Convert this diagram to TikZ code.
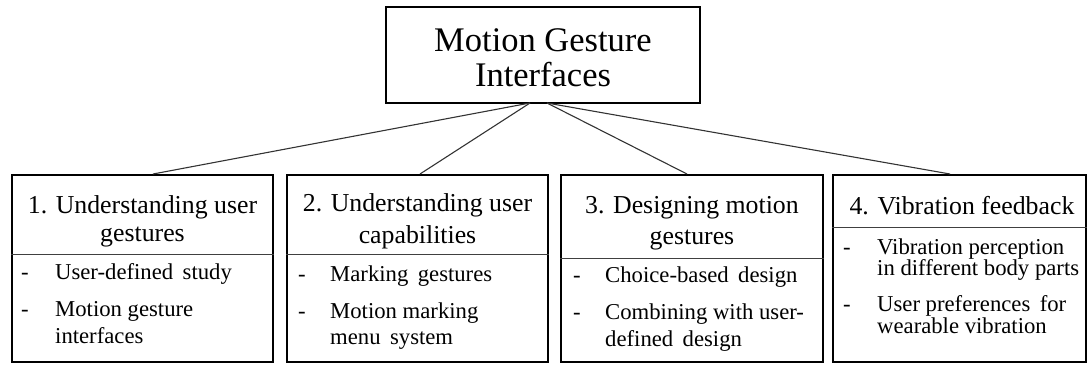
\documentclass[tikz,border=0pt]{standalone}
\usepackage{fontspec}
\setmainfont{Liberation Serif}
\begin{document}
\begin{tikzpicture}[x=1pt,y=-1pt,
  box/.style={draw=black,line width=2pt,inner sep=0pt,minimum height=187pt},
  topbox/.style={draw=black,line width=2pt,inner sep=0pt,minimum width=314pt,minimum height=96pt},
  toptxt/.style={inner sep=0pt,anchor=mid,font=\fontsize{34.5}{38}\selectfont},
  ttl/.style={inner sep=0pt,anchor=mid,font=\fontsize{25.8}{28}\selectfont},
  itm/.style={inner sep=0pt,anchor=mid west,font=\fontsize{22.7}{26}\selectfont},
  dsh/.style={inner sep=0pt,anchor=mid west,font=\fontsize{22.7}{26}\selectfont},
  divline/.style={draw=black!75,line width=1pt},
  conn/.style={draw=black!80,line width=1.1pt}]
\useasboundingbox (0,0) rectangle (1088,365);
% top box
\node[topbox] (top) at (543,55) {};
\node[toptxt] (topa) at (543,49) {Motion Gesture};
\node[toptxt] (topb) at (543,84) {Interfaces};
% boxes
\node[box,minimum width=261pt] (b1) at (142.5,268.5) {};
\node[box,minimum width=261pt] (b2) at (417.5,268.5) {};
\node[box,minimum width=262pt] (b3) at (692,268.5) {};
\node[box,minimum width=253pt] (b4) at (959.5,268.5) {};
% connectors
\coordinate (jl) at (530,103);
\coordinate (jr) at (547,103);
\draw[conn] (jl) -- ([xshift=10.5pt]b1.north);
\draw[conn] (jl) -- ([xshift=2.5pt]b2.north);
\draw[conn] (jr) -- ([xshift=-5pt]b3.north);
\draw[conn] (jr) -- ([xshift=-9.5pt]b4.north);
% dividers
\draw[divline] (b1.west |- {(0,254)}) -- (b1.east |- {(0,254)});
\draw[divline] (b2.west |- {(0,254)}) -- (b2.east |- {(0,254)});
\draw[divline] (b3.west |- {(0,258)}) -- (b3.east |- {(0,258)});
\draw[divline] (b4.west |- {(0,227)}) -- (b4.east |- {(0,227)});
% box 1
\node[ttl] (t1a) at (142.5,211.5) {1. Understanding user};
\node[ttl] (t1b) at (142.5,239.5) {gestures};
\node[dsh] (d1a) at (21,277.5) {-};
\node[itm] (i1a) at (55,277.5) {User-defined\, study};
\node[dsh] (d1b) at (21,314.5) {-};
\node[itm] (i1b) at (55,314.5) {Motion gesture};
\node[itm] (i1c) at (55,341.5) {interfaces};
% box 2
\node[ttl] (t2a) at (417.5,209.5) {2. Understanding user};
\node[ttl] (t2b) at (417.5,241.5) {capabilities};
\node[dsh] (d2a) at (298,279.5) {-};
\node[itm] (i2a) at (330,279.5) {Marking\, gestures};
\node[dsh] (d2b) at (298,316.5) {-};
\node[itm] (i2b) at (330,316.5) {Motion marking};
\node[itm] (i2c) at (330,342.5) {menu\, system};
% box 3
\node[ttl] (t3a) at (692,211.5) {3. Designing motion};
\node[ttl] (t3b) at (692,242.5) {gestures};
\node[dsh] (d3a) at (573,280.5) {-};
\node[itm] (i3a) at (605,280.5) {Choice-based\, design};
\node[dsh] (d3b) at (573,317.5) {-};
\node[itm] (i3b) at (605,317.5) {Combining with user-};
\node[itm] (i3c) at (605,344.5) {defined\, design};
% box 4
\node[ttl] (t4a) at (962,212.5) {4. Vibration feedback};
\node[dsh] (d4a) at (843,252.5) {-};
\node[itm] (i4a) at (877,252.5) {Vibration perception};
\node[itm] (i4b) at (877,273) {in different body parts};
\node[dsh] (d4b) at (843,309.5) {-};
\node[itm] (i4c) at (877,309.5) {User preferences\, for};
\node[itm] (i4d) at (877,331.5) {wearable vibration};
\end{tikzpicture}
\end{document}
